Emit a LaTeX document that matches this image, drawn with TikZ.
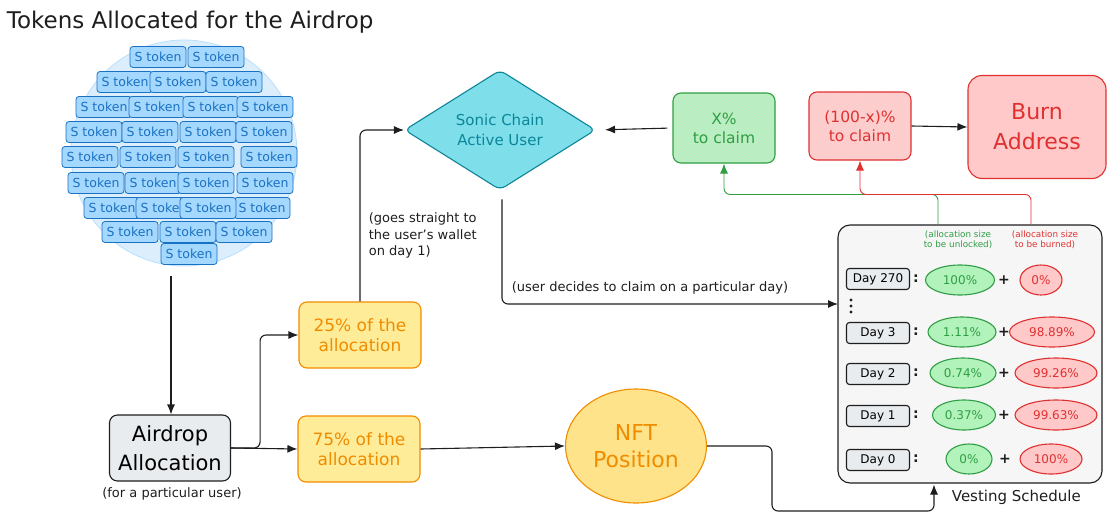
\documentclass[tikz,border=0pt]{standalone}
\usepackage{fontspec}
\setmainfont{DejaVu Sans}
\usetikzlibrary{shapes.geometric,arrows.meta,patterns}
\definecolor{ink}{HTML}{1E1E1E}
\definecolor{tokb}{HTML}{1971C2}
\definecolor{tokf}{HTML}{A5D8FF}
\definecolor{poolf}{HTML}{DCEEFC}
\definecolor{orng}{HTML}{F08C00}
\definecolor{yelf}{HTML}{FFEC99}
\definecolor{nftf}{HTML}{FFE38A}
\definecolor{cyf}{HTML}{7EDFEB}
\definecolor{cyb}{HTML}{0C8599}
\definecolor{grn}{HTML}{2F9E44}
\definecolor{grnf}{HTML}{B2F2BB}
\definecolor{rd}{HTML}{E03131}
\definecolor{rdf}{HTML}{FFC9C9}
\definecolor{gryf}{HTML}{E9ECEF}

\begin{document}
\begin{tikzpicture}[x=1pt,y=-1pt,line width=1.1pt,>={Latex[length=10pt,width=8pt]},
  tok/.style={draw=tokb,fill=tokf,rounded corners=3pt,minimum width=56,minimum height=21,inner sep=0,text=tokb,line width=0.8pt,font=\fontsize{12.5}{14}\selectfont},
  box/.style={draw=ink,rounded corners=8pt,inner sep=0,align=center},
  note/.style={text=ink,font=\fontsize{13}{16.5}\selectfont},
  arr/.style={->,draw=ink,rounded corners=6pt},
  garr/.style={->,draw=grn,line width=0.9pt,rounded corners=6pt},
  rarr/.style={->,draw=rd,line width=0.9pt,rounded corners=6pt},
  day/.style={draw=ink,fill=gryf,rounded corners=3pt,minimum width=63,minimum height=21,inner sep=0,font=\fontsize{12}{14}\selectfont},
  sep/.style={text=ink,font=\fontsize{14}{14}\selectfont\bfseries},
  gpill/.style={ellipse,draw=grn,fill=grnf,text=grn,minimum width=#1,minimum height=30,inner sep=0,font=\fontsize{12}{14}\selectfont},
  rpill/.style={ellipse,draw=rd,fill=rdf,text=rd,minimum width=#1,minimum height=30,inner sep=0,font=\fontsize{12}{14}\selectfont}]
\useasboundingbox (0,0) rectangle (1108,514);

\node[anchor=base west,text=ink,font=\fontsize{23}{26}\selectfont] (title) at (3,28) {Tokens Allocated for the Airdrop};
\node[circle,draw=tokf!80,fill=poolf,minimum size=226,line width=0.8pt] (pool) at (184,153) {};

% tokens in the pool
\node[tok] (t11) at (158,57) {S token}; \node[tok] (t12) at (216,57) {S token};
\node[tok] (t21) at (125,82) {S token}; \node[tok] (t22) at (178,82) {S token}; \node[tok] (t23) at (234,82) {S token};
\node[tok] (t31) at (104,107) {S token}; \node[tok] (t32) at (157,107) {S token}; \node[tok] (t33) at (211,107) {S token}; \node[tok] (t34) at (265,107) {S token};
\node[tok] (t41) at (94,132) {S token}; \node[tok] (t42) at (150,132) {S token}; \node[tok] (t43) at (208,132) {S token}; \node[tok] (t44) at (264,132) {S token};
\node[tok] (t51) at (90,157) {S token}; \node[tok] (t52) at (148,157) {S token}; \node[tok] (t53) at (206,157) {S token}; \node[tok] (t54) at (269,157) {S token};
\node[tok] (t61) at (96,183) {S token}; \node[tok] (t62) at (153,183) {S token}; \node[tok] (t63) at (206,183) {S token}; \node[tok] (t64) at (265,183) {S token};
\node[tok] (t71) at (112,208) {S token}; \node[tok] (t72) at (164,208) {S token}; \node[tok] (t74) at (262,208) {S token}; \node[tok] (t73) at (208,208) {S token};
\node[tok] (t81) at (130,232) {S token}; \node[tok] (t82) at (188,232) {S token}; \node[tok] (t83) at (244,232) {S token};
\node[tok] (t91) at (189,254) {S token};

\node[box,fill=gryf,minimum width=121,minimum height=66,font=\fontsize{21}{29}\selectfont] (airdrop) at (170,448) {Airdrop\\Allocation};
\node[note] (who) at (172,494) {(for a particular user)};
\node[box,draw=orng,fill=yelf,text=orng,minimum width=122,minimum height=66,font=\fontsize{17}{20}\selectfont] (q25) at (360,335) {25\% of the\\allocation};
\node[box,draw=orng,fill=yelf,text=orng,minimum width=122,minimum height=66,font=\fontsize{17}{20}\selectfont] (q75) at (359,449) {75\% of the\\allocation};
\node[ellipse,draw=orng,fill=nftf,text=orng,minimum width=141,minimum height=114,inner sep=0,align=center,font=\fontsize{22}{27}\selectfont] (nft) at (636,446) {NFT\\Position};
\node[diamond,draw=cyb,fill=cyf,text=cyb,minimum width=191,minimum height=116,inner sep=0,rounded corners=6pt,align=center,font=\fontsize{15}{20}\selectfont] (user) at (500,130) {Sonic Chain\\Active User};
\node[box,draw=grn,preaction={fill=grnf},pattern=north east lines,pattern color=grn!25,text=grn,minimum width=102,minimum height=70,font=\fontsize{15.5}{19}\selectfont] (xclaim) at (724,128) {X\%\\to claim};
\node[box,draw=rd,preaction={fill=rdf},pattern=north east lines,pattern color=rd!20,text=rd,minimum width=102,minimum height=68,font=\fontsize{15.5}{19}\selectfont] (yclaim) at (860,126) {(100-x)\%\\to claim};
\node[box,draw=rd,fill=rdf,text=rd,rounded corners=14pt,minimum width=138,minimum height=103,font=\fontsize{22}{30}\selectfont] (burn) at (1037,127) {Burn\\Address};

% vesting schedule
\node[box,rounded corners=12pt,preaction={fill=gray!4},pattern=north east lines,pattern color=gray!12,minimum width=264,minimum height=258] (vest) at (970,354) {};
\node[text=grn,align=center,font=\fontsize{8.8}{10}\selectfont] (ghead) at (958,240) {(allocation size\\to be unlocked)};
\node[text=rd,align=center,font=\fontsize{8.8}{10}\selectfont] (rhead) at (1045,240) {(allocation size\\to be burned)};
\node[day] (d270) at (878,279) {Day 270}; \node[sep] (c270) at (916,279) {:};
\node[gpill=69] (g270) at (960,280) {100\%}; \node[sep] (p270) at (1004,280) {+}; \node[rpill=42] (r270) at (1041,280) {0\%};
\node[day] (d3) at (878,333) {Day 3}; \node[sep] (c3) at (916,332) {:};
\node[gpill=68] (g3) at (962,332) {1.11\%}; \node[sep] (p3) at (1004,332) {+}; \node[rpill=85] (r3) at (1052,332) {98.89\%};
\node[day] (d2) at (878,374) {Day 2}; \node[sep] (c2) at (916,373) {:};
\node[gpill=66] (g2) at (963,373) {0.74\%}; \node[sep] (p2) at (1004,373) {+}; \node[rpill=82] (r2) at (1056,373) {99.26\%};
\node[day] (d1) at (878,416) {Day 1}; \node[sep] (c1) at (916,415) {:};
\node[gpill=63] (g1) at (964,415) {0.37\%}; \node[sep] (p1) at (1004,415) {+}; \node[rpill=82] (r1) at (1056,415) {99.63\%};
\node[day] (d0) at (878,460) {Day 0}; \node[sep] (c0) at (916,459) {:};
\node[gpill=46] (g0) at (969,459) {0\%}; \node[sep] (p0) at (1005,459) {+}; \node[rpill=62] (r0) at (1051,459) {100\%};
\fill[ink] (851,300) circle (1.6) (851,306) circle (1.6) (851,312) circle (1.6);
\node[anchor=west,text=ink,font=\fontsize{15}{17}\selectfont] (vlabel) at (948,497) {Vesting Schedule};

\node[note,anchor=north west,align=left] (straight) at (365,209) {(goes straight to\\the user's wallet\\on day 1)};
\node[note,anchor=west] (decide) at (508,288) {(user decides to claim on a particular day)};

% connectors
\coordinate (drop) at (171,276);
\coordinate (vin) at (838,304);
\coordinate (low) at (772,511);
\draw[arr] (drop) -- (drop |- airdrop.north);
\draw[arr] (airdrop.east) -- (q75.west);
\draw[arr] (airdrop.east) -- ++(29,0) |- (q25.west);
\draw[arr] (q25.north) |- (user.west);
\draw[arr] ([shift={(2,9)}]user.south) |- (vin);
\draw[arr,shorten <=5pt,shorten >=9pt] (xclaim.west) -- (user.east);
\draw[arr] (yclaim.east) -- (burn.west);
\draw[arr] (q75.east) -- (nft.west);
\draw[arr,shorten >=1pt] (nft.east) -| (low) -| ([xshift=-36]vest.south);
\draw[garr] ([xshift=-32]vest.north) -- ++(0,-30) -| (xclaim.south);
\draw[rarr] ([xshift=61]vest.north) -- ++(0,-30) -| (yclaim.south);
\end{tikzpicture}
\end{document}
